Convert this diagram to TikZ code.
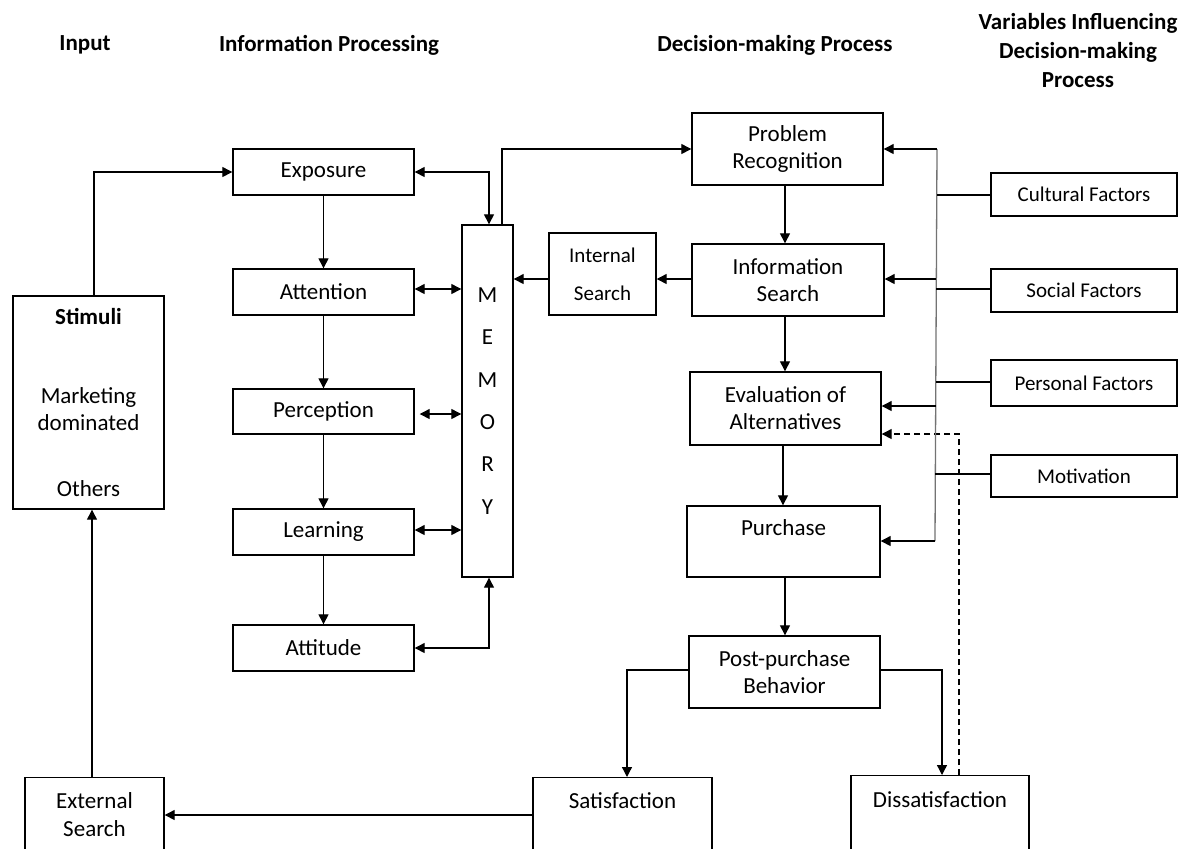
\documentclass[tikz,border=0pt]{standalone}
\usepackage{fontspec}
\setmainfont{Carlito}
\usetikzlibrary{arrows.meta}
\begin{document}
\begin{tikzpicture}[x=0.5pt,y=-0.5pt,
  box/.style={draw, line width=0.7pt, inner sep=0pt, align=center, font=\fontsize{11.5}{13.5}\selectfont},
  fac/.style={box, font=\fontsize{10.5}{13}\selectfont},
  txt/.style={inner sep=0pt, align=center, font=\fontsize{11.5}{13.5}\selectfont},
  arr/.style={line width=0.65pt, -{Triangle[length=5pt,width=5pt]}},
  darr/.style={line width=0.65pt, {Triangle[length=5pt,width=5pt]}-{Triangle[length=5pt,width=5pt]}},
  bus/.style={line width=0.65pt, draw=black!55},
  ttl/.style={inner sep=0pt, font=\bfseries\fontsize{11.5}{14.5}\selectfont, align=center}]
\fill[white] (0,0) rectangle (1190,848);
\useasboundingbox (0,0) rectangle (1190,848);
\clip (0,0) rectangle (1190,848);

% titles
\node[ttl] (t1) at (85,45) {Input};
\node[ttl] (t2) at (329,45) {Information Processing};
\node[ttl] (t3) at (775,45) {Decision-making Process};
\node[ttl] (t4) at (1078,51) {Variables Influencing\\Decision-making\\Process};

% input
\node[box, minimum width=75.5pt, minimum height=106.5pt] (stim) at (88.5,402.5)
  {\textbf{Stimuli}\\[26pt]Marketing\\dominated\\[19.5pt]Others};
\node[box, minimum width=69.5pt, minimum height=50pt, anchor=north] (ext) at (94.5,777) {};
\node[txt] (extt) at (94.5,815) {External\\[0.5pt]Search};

% information processing
\node[box, minimum width=90.5pt, minimum height=23pt] (expo) at (323.5,172) {Exposure};
\node[box, minimum width=90.5pt, minimum height=23pt] (att) at (323.5,292) {Attention};
\node[box, minimum width=90.5pt, minimum height=22.5pt] (perc) at (323.5,411.5) {Perception};
\node[box, minimum width=90.5pt, minimum height=23pt] (learn) at (323.5,532) {Learning};
\node[box, minimum width=90.5pt, minimum height=23pt] (attit) at (323.5,648) {Attitude};
\node[box, minimum width=25.5pt, minimum height=176pt, font=\fontsize{11.5}{21.2}\selectfont] (mem) at (487.5,401) {M\\E\\M\\O\\R\\Y};
\node[box, minimum width=53.5pt, minimum height=41pt, font=\fontsize{10.5}{12.5}\selectfont] (intsrch) at (602.5,274) {Internal\\[6.5pt]Search};

% decision making
\node[box, minimum width=95.5pt, minimum height=36pt] (prob) at (787.5,149) {Problem\\Recognition};
\node[box, minimum width=96pt, minimum height=36pt] (infs) at (788,280) {Information\\Search};
\node[box, minimum width=95.5pt, minimum height=36.5pt] (eval) at (785.5,408.5) {Evaluation of\\Alternatives};
\node[box, minimum width=96.5pt, minimum height=35.5pt] (purch) at (783.5,541.5) {Purchase\\\phantom{X}};
\node[box, minimum width=95.5pt, minimum height=36pt] (post) at (784.5,672) {Post-purchase\\Behavior};
\node[box, minimum width=89.5pt, minimum height=50pt, anchor=north] (sat) at (622.5,777) {};
\node[txt] (satt) at (622.5,801) {Satisfaction};
\node[box, minimum width=89pt, minimum height=50pt, anchor=north] (dis) at (940,775) {};
\node[txt] (dist) at (940,800) {Dissatisfaction};

% factors
\node[fac, minimum width=93pt, minimum height=21.5pt] (cult) at (1084,194.5) {Cultural Factors};
\node[fac, minimum width=93pt, minimum height=21.5pt] (soc) at (1084,290.5) {Social Factors};
\node[fac, minimum width=93pt, minimum height=23pt] (pers) at (1084,383) {Personal Factors};
\node[fac, minimum width=93pt, minimum height=21pt] (mot) at (1084,476) {Motivation};

% input connectors
\draw[arr] ([xshift=2.75pt]stim.north) |- (expo.west);
\draw[arr] ([xshift=-1.25pt]ext.north) -- ([xshift=-1.25pt]ext.north |- stim.south);
\draw[arr] (sat.west |- 0,815) -- (ext.east |- 0,815);

% information processing connectors
\draw[arr] (expo) -- (att);
\draw[arr] (att) -- (perc);
\draw[arr] (perc) -- (learn);
\draw[arr] (learn) -- (attit);
\draw[darr] (expo.east) -| ([xshift=0.75pt]mem.north);
\draw[darr] (att.east |- 0,289) -- (mem.west |- 0,289);
\draw[darr] ([xshift=2.5pt]perc.east |- 0,414) -- (mem.west |- 0,414);
\draw[darr] (learn.east |- 0,530) -- (mem.west |- 0,530);
\draw[darr] (attit.east) -| ([xshift=0.75pt]mem.south);
\draw[arr] ([xshift=7.25pt]mem.north) |- (prob.west);
\draw[arr] (intsrch.west |- 0,279) -- (mem.east |- 0,279);
\draw[arr] (infs.west |- 0,279) -- (intsrch.east |- 0,279);

% decision connectors
\draw[arr] (prob.south -| 785,0) -- (infs.north -| 785,0);
\draw[arr] (infs.south -| 785,0) -- (eval.north -| 785,0);
\draw[arr] (eval.south -| 783,0) -- (purch.north -| 783,0);
\draw[arr] (purch.south -| 785,0) -- (post.north -| 785,0);
\draw[arr] (post.west |- 0,670) -| ([xshift=2.25pt]sat.north);
\draw[arr] (post.east |- 0,670) -| ([xshift=1pt]dis.north);
\draw[arr, dashed, dash pattern=on 3pt off 2pt] ([xshift=9.5pt]dis.north) |- (eval.east |- 0,434);

% variables bus
\coordinate (bt) at (937,149);
\coordinate (bb) at (935,541);
\coordinate (b2) at (936,279);
\coordinate (b3) at (936,406);
\draw[bus] (bt) -- (bb);
\draw[arr] (bt) -- (prob.east |- bt);
\draw[arr] (b2) -- (infs.east |- b2);
\draw[arr] (b3) -- (eval.east |- b3);
\draw[arr] (bb) -- (purch.east |- bb);
\draw[line width=0.65pt] (cult.west |- 0,195) -- (937,195);
\draw[line width=0.65pt] (soc.west |- 0,289) -- (935.5,289);
\draw[line width=0.65pt] (pers.west |- 0,382) -- (935.5,382);
\draw[line width=0.65pt] (mot.west |- 0,474) -- (935,474);
\end{tikzpicture}
\end{document}
